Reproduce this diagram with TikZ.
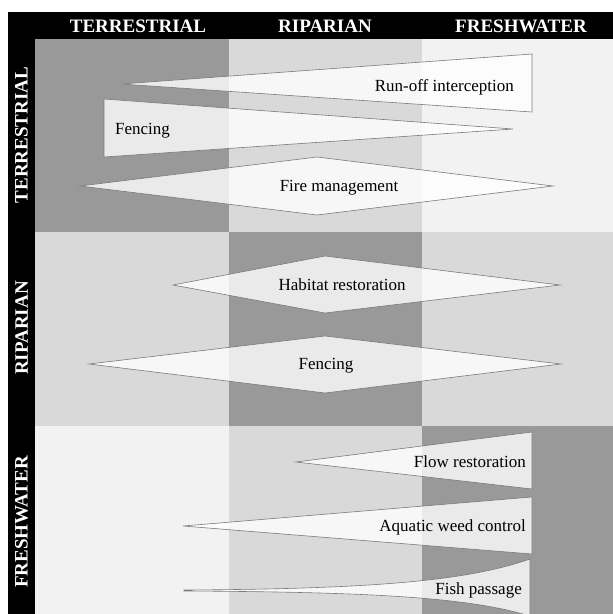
\documentclass[tikz,border=0pt]{standalone}
\usepackage{fontspec}
\setmainfont{Liberation Serif}
\usepackage{tikz}
\definecolor{celldark}{HTML}{999999}
\definecolor{cellmid}{HTML}{D9D9D9}
\definecolor{celllight}{HTML}{F2F2F2}
\definecolor{edgegray}{HTML}{7A7A7A}
\tikzset{
    wedge/.style={draw=edgegray, line width=0.6pt, fill=white, fill opacity=0.8},
    header/.style={text=white, font=\fontsize{19}{19}\selectfont\bfseries},
    sidehead/.style={header, rotate=90},
    label/.style={font=\fontsize{17}{17}\selectfont, inner sep=0pt}
}
\begin{document}
\begin{tikzpicture}[x=1pt, y=-1pt]
    \useasboundingbox (0,0) rectangle (613,614);
    \clip (0,0) rectangle (613,614);
    % frame and grid
    \fill[black] (8,12) rectangle (613,614);
    \fill[celldark] (35,39) rectangle (229,232);
    \fill[cellmid] (229,39) rectangle (422,232);
    \fill[celllight] (422,39) rectangle (613,232);
    \fill[cellmid] (35,232) rectangle (229,426);
    \fill[celldark] (229,232) rectangle (422,426);
    \fill[cellmid] (422,232) rectangle (613,426);
    \fill[celllight] (35,426) rectangle (229,614);
    \fill[cellmid] (229,426) rectangle (422,614);
    \fill[celldark] (422,426) rectangle (613,614);
    % headings
    \node[header] (colT) at (138,26) {TERRESTRIAL};
    \node[header] (colR) at (325,26) {RIPARIAN};
    \node[header] (colF) at (521,26) {FRESHWATER};
    \node[sidehead] (rowT) at (21.5,135) {TERRESTRIAL};
    \node[sidehead] (rowR) at (21.5,328) {RIPARIAN};
    \node[sidehead] (rowF) at (21.5,522) {FRESHWATER};
    % terrestrial row
    \draw[wedge] (121,84) -- (532,54) -- (532,112) -- cycle;
    \node[label, anchor=base east] (runoff) at (514,91.5) {Run-off interception};
    \draw[wedge] (104,99) -- (513,129) -- (104,157) -- cycle;
    \node[label, anchor=base west] (fenceT) at (115,134.5) {Fencing};
    \draw[wedge] (80,186) -- (317,157) -- (553,186) -- (317,215) -- cycle;
    \node[label, anchor=base] (fire) at (339,191) {Fire management};
    % riparian row
    \draw[wedge] (173,285) -- (325,256) -- (560,285) -- (325,313) -- cycle;
    \node[label, anchor=base] (habitat) at (342,290) {Habitat restoration};
    \draw[wedge] (89,364) -- (325,336) -- (561,364) -- (325,393) -- cycle;
    \node[label, anchor=base] (fenceR) at (326,369) {Fencing};
    % freshwater row
    \draw[wedge] (296,462) -- (532,432) -- (532,489) -- cycle;
    \node[label, anchor=base east] (flow) at (526,467) {Flow restoration};
    \draw[wedge] (183,526) -- (532,497) -- (532,554) -- cycle;
    \node[label, anchor=base east] (weed) at (526,531) {Aquatic weed control};
    \draw[wedge] (184,590) .. controls (380,589) and (470,580) .. (530,559)
        -- (530,616) .. controls (470,598) and (380,592) .. (184,591) -- cycle;
    \node[label, anchor=base east] (fish) at (522,594) {Fish passage};
\end{tikzpicture}
\end{document}
